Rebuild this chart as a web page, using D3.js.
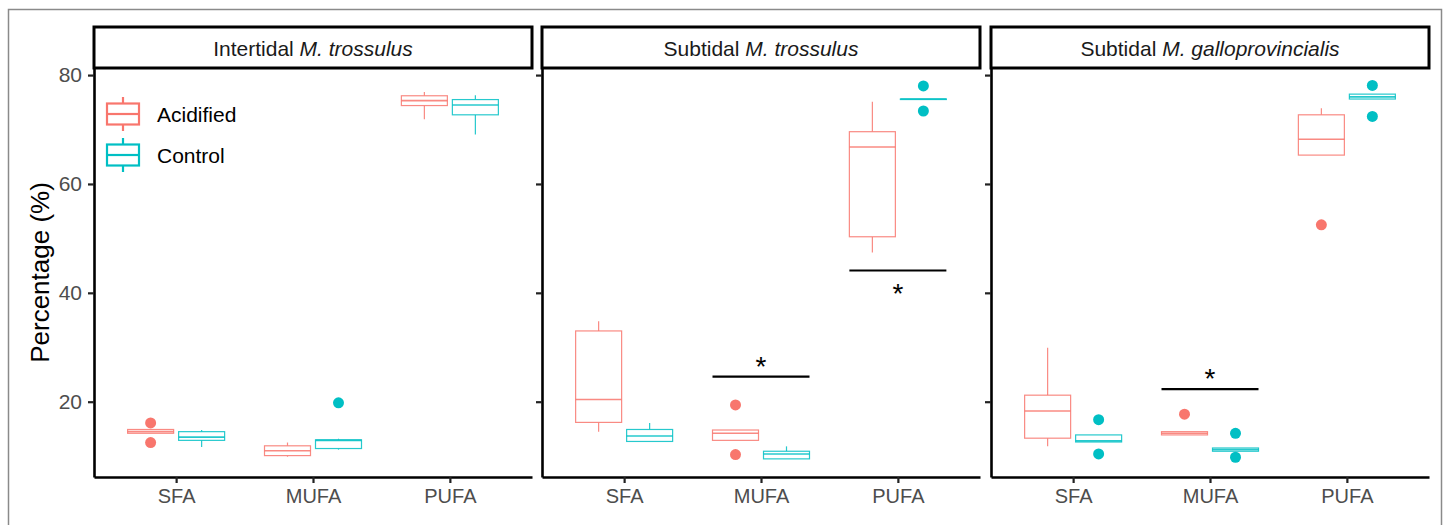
<!DOCTYPE html>
<html>
<head>
<meta charset="utf-8">
<script src="https://cdn.jsdelivr.net/npm/d3@7"></script>
<style>
  body { margin: 0; background: #fff; }
  svg { font-family: "Liberation Sans", Arial, sans-serif; }
</style>
</head>
<body>
<svg width="1448" height="525"></svg>
<script>
// Data (five-number summaries per box + outliers)
const categories = ["SFA", "MUFA", "PUFA"];
const groups = ["Acidified", "Control"];
const stripPlain = ["Intertidal ", "Subtidal ", "Subtidal "];
const stripItalic = ["M. trossulus", "M. trossulus", "M. galloprovincialis"];
const yTicks = [20, 40, 60, 80];

// [fa, group, lower whisker, q1, median, q3, upper whisker, outliers]
const intertidalTrossulus = [
    ["SFA",  "Acidified", 14.2, 14.2, 14.5, 14.9, 14.9, [16.1, 12.5]],
    ["SFA",  "Control",   11.7, 12.9, 13.5, 14.5, 14.8, []],
    ["MUFA", "Acidified",  9.9, 10.1, 11.0, 11.9, 12.5, []],
    ["MUFA", "Control",   11.2, 11.4, 12.9, 13.0, 13.2, [19.8]],
    ["PUFA", "Acidified", 71.9, 74.4, 75.3, 76.2, 76.9, []],
    ["PUFA", "Control",   69.1, 72.7, 74.5, 75.5, 76.3, []]
];
const subtidalTrossulus = [
    ["SFA",  "Acidified", 14.5, 16.2, 20.4, 33.0, 34.8, []],
    ["SFA",  "Control",   12.7, 12.7, 13.7, 14.9, 16.1, []],
    ["MUFA", "Acidified", 12.9, 12.9, 14.2, 14.8, 14.8, [19.4, 10.3]],
    ["MUFA", "Control",    9.5,  9.5, 10.4, 10.9, 11.8, []],
    ["PUFA", "Acidified", 47.4, 50.3, 66.8, 69.6, 75.1, []],
    ["PUFA", "Control",   75.6, 75.6, 75.6, 75.6, 75.6, [78.0, 73.4]]
];
const subtidalGalloprov = [
    ["SFA",  "Acidified", 11.8, 13.3, 18.3, 21.2, 29.9, []],
    ["SFA",  "Control",   12.6, 12.6, 12.8, 13.9, 13.9, [16.7, 10.4]],
    ["MUFA", "Acidified", 13.9, 13.9, 14.2, 14.5, 14.5, [17.7]],
    ["MUFA", "Control",   10.9, 10.9, 11.2, 11.5, 11.5, [14.2, 9.8]],
    ["PUFA", "Acidified", 65.3, 65.3, 68.2, 72.7, 73.9, [52.5]],
    ["PUFA", "Control",   75.6, 75.6, 76.0, 76.5, 76.5, [78.1, 72.4]]
];
const panelStats = [intertidalTrossulus, subtidalTrossulus, subtidalGalloprov];

// significance bars: [panel index, fa, value, star side]
const sigBars = [
    [1, "MUFA", 24.6, "above"],
    [1, "PUFA", 44.1, "below"],
    [2, "MUFA", 22.3, "above"]
];

// Layout
const panelX = [94, 542, 991];
const panelW = 438;
const panelTop = 68, panelBottom = 477;
const stripTop = 27;
const colors = { "Acidified": "#F8766D", "Control": "#00BFC4" };

const svg = d3.select("svg");

// outer frame
svg.append("rect")
    .attr("x", 8.5).attr("y", 9.5)
    .attr("width", 1433).attr("height", 540)
    .attr("fill", "none").attr("stroke", "#8a8a8a").attr("stroke-width", 1.5);

const y = d3.scaleLinear().domain([6.17, 81.3]).range([panelBottom, panelTop]);
const x = d3.scalePoint().domain(categories).range([0, panelW]).padding(0.6);
const dodge = d3.scalePoint().domain(groups).range([-25.5, 25.5]);
const boxW = 46;

panelStats.forEach(function(stats, i) {
    let g = svg.append("g").attr("transform", "translate(" + panelX[i] + ",0)");

    // boxes
    stats.forEach(function(s) {
        let cx = x(s[0]) + dodge(s[1]);
        let col = colors[s[1]];
        let b = g.append("g")
            .attr("stroke", col).attr("stroke-width", 1.2)
            .attr("stroke-opacity", 0.85).attr("fill", "none");
        b.append("line").attr("x1", cx).attr("x2", cx)
            .attr("y1", y(s[6])).attr("y2", y(s[5]));
        b.append("line").attr("x1", cx).attr("x2", cx)
            .attr("y1", y(s[3])).attr("y2", y(s[2]));
        b.append("rect")
            .attr("x", cx - boxW / 2).attr("width", boxW)
            .attr("y", y(s[5])).attr("height", Math.max(0.5, y(s[3]) - y(s[5])))
            .attr("fill", "white");
        b.append("line").attr("x1", cx - boxW / 2).attr("x2", cx + boxW / 2)
            .attr("y1", y(s[4])).attr("y2", y(s[4]))
            .attr("stroke-width", 1.6);
        s[7].forEach(function(o) {
            g.append("circle").attr("cx", cx).attr("cy", y(o))
                .attr("r", 5.5).attr("fill", col);
        });
    });

    // axes (tick labels only on the first panel, shared scale)
    let yaxis = d3.axisLeft(y).tickValues(yTicks).tickSize(6).tickSizeOuter(0).tickPadding(6);
    if (i > 0) yaxis.tickFormat("");
    let ya = g.append("g").call(yaxis);
    let xaxis = d3.axisBottom(x).tickSize(6).tickSizeOuter(0).tickPadding(6);
    let xa = g.append("g").attr("transform", "translate(0," + panelBottom + ")").call(xaxis);
    [ya, xa].forEach(function(a) {
        a.select(".domain").attr("stroke", "black").attr("stroke-width", 2.6);
        a.selectAll(".tick line").attr("stroke", "#222").attr("stroke-width", 2.2);
        a.selectAll(".tick text").attr("fill", "#4d4d4d").attr("font-size", 20)
            .attr("font-family", "Liberation Sans, Arial, sans-serif");
    });
    ya.selectAll(".tick text").attr("font-size", 21);

    // strip
    g.append("rect")
        .attr("x", 0).attr("y", stripTop)
        .attr("width", panelW).attr("height", panelTop - stripTop)
        .attr("fill", "white").attr("stroke", "black").attr("stroke-width", 3);
    let st = g.append("text")
        .attr("x", panelW / 2).attr("y", (stripTop + panelTop) / 2)
        .attr("text-anchor", "middle").attr("dominant-baseline", "central")
        .attr("font-size", 21).attr("fill", "#1a1a1a");
    st.append("tspan").text(stripPlain[i]);
    st.append("tspan").attr("font-style", "italic").text(stripItalic[i]);
});

// significance bars
sigBars.forEach(function(sb) {
    let x0 = panelX[sb[0]] + x(sb[1]);
    let half = 25.5 + boxW / 2;
    let yy = y(sb[2]);
    svg.append("line")
        .attr("x1", x0 - half).attr("x2", x0 + half)
        .attr("y1", yy).attr("y2", yy)
        .attr("stroke", "black").attr("stroke-width", 2.2);
    let starCenter = sb[3] === "above" ? yy - 16 : yy + 17;
    svg.append("text")
        .attr("x", x0).attr("y", starCenter + 15)
        .attr("text-anchor", "middle")
        .attr("font-size", 28).attr("fill", "black")
        .text("*");
});

// legend (inside first panel)
const legendY = [114, 155];
groups.forEach(function(grp, k) {
    let cx = 123, cy = legendY[k];
    let lg = svg.append("g").attr("stroke", colors[grp]).attr("stroke-width", 2.2).attr("fill", "none");
    lg.append("line").attr("x1", cx).attr("x2", cx).attr("y1", cy - 17).attr("y2", cy + 17);
    lg.append("rect").attr("x", cx - 16).attr("y", cy - 10.5).attr("width", 32).attr("height", 21)
        .attr("fill", "white");
    lg.append("line").attr("x1", cx - 16).attr("x2", cx + 16).attr("y1", cy).attr("y2", cy);
    svg.append("text")
        .attr("x", 157).attr("y", cy)
        .attr("dominant-baseline", "central")
        .attr("font-size", 21).attr("fill", "black")
        .text(grp);
});

// y axis title
svg.append("text")
    .attr("transform", "translate(40," + ((panelTop + panelBottom) / 2) + ") rotate(-90)")
    .attr("text-anchor", "middle").attr("dominant-baseline", "central")
    .attr("font-size", 26).attr("fill", "black")
    .text("Percentage (%)");
</script>
</body>
</html>
